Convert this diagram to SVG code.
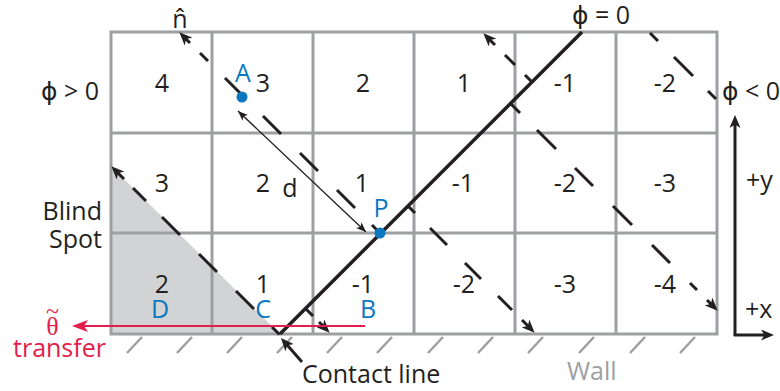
<svg xmlns="http://www.w3.org/2000/svg" width="780" height="391" viewBox="0 0 780 391">
<style>
.grid{stroke:#9d9fa2;stroke-width:3;fill:none}
.hatch{stroke:#9d9fa2;stroke-width:2.5}
.t{font-family:"Open Sans","DejaVu Sans",sans-serif;font-size:25px;fill:#231f20}
.m{text-anchor:middle}
.phi{font-family:"DejaVu Sans",sans-serif}
.blue{fill:#0b78c0}
.red{fill:#e31d4c}
.gray{fill:#9d9fa2}
.dash{stroke:#231f20;stroke-width:3;fill:none}
.arr{marker-end:url(#ah)}
.serif{font-family:"Liberation Serif",serif;text-anchor:middle;fill:#e31d4c}
</style>
<defs>
<marker id="ah" markerUnits="userSpaceOnUse" viewBox="0 0 13 11" markerWidth="13" markerHeight="11" refX="9" refY="5.5" orient="auto">
<path d="M0,0 L13,5.5 L0,11 L3.5,5.5 z" fill="#231f20"/>
</marker>
<marker id="ahs" markerUnits="userSpaceOnUse" viewBox="0 0 10 8" markerWidth="10" markerHeight="8" refX="10" refY="4" orient="auto-start-reverse">
<path d="M0,0 L10,4 L0,8 L2.5,4 z" fill="#231f20"/>
</marker>
<marker id="ahr" markerUnits="userSpaceOnUse" viewBox="0 0 16 12" markerWidth="16" markerHeight="12" refX="12" refY="6" orient="auto">
<path d="M0,0 L16,6 L0,12 L4,6 z" fill="#e31d4c"/>
</marker>
</defs>

<g id="blind-spot">
<polygon points="111,166 111,334 280,334" fill="#d1d3d4"/>
</g>

<g id="grid">
<rect class="grid" x="111" y="32" width="606" height="302"/>
<path class="grid" d="M212,32V334M313,32V334M414,32V334M515,32V334M616,32V334M111,133H717M111,233H717"/>
</g>

<g id="wall">
<path class="hatch" d="M127,353l15,-16M177,353l15,-16M227,353l15,-16M277,353l15,-16M327,353l15,-16M377,353l15,-16M428,353l15,-16M478,353l15,-16M528,353l15,-16M579,353l15,-16M630,353l15,-16M680,353l15,-16"/>
<text class="t gray" x="567" y="380">Wall</text>
</g>

<g id="cells">
<text class="t m" x="162" y="92">4</text>
<text class="t m" x="263" y="92">3</text>
<text class="t m" x="363" y="92">2</text>
<text class="t m" x="464" y="92">1</text>
<text class="t m" x="565" y="92">-1</text>
<text class="t m" x="665" y="92">-2</text>
<text class="t m" x="162" y="192">3</text>
<text class="t m" x="263" y="192">2</text>
<text class="t m" x="362" y="192">1</text>
<text class="t m" x="463" y="192">-1</text>
<text class="t m" x="565" y="192">-2</text>
<text class="t m" x="665" y="192">-3</text>
<text class="t m" x="162" y="293">2</text>
<text class="t m" x="263" y="293">1</text>
<text class="t m" x="363" y="293">-1</text>
<text class="t m" x="464" y="293">-2</text>
<text class="t m" x="565" y="293">-3</text>
<text class="t m" x="665" y="293">-4</text>
</g>

<g id="connectors">
<path id="contact-line" d="M280,334 L582,32" stroke="#231f20" stroke-width="3.5" fill="none"/>
<path id="n1" class="dash arr" d="M279.5,334.5 L272,327 M254,309 L236,291 M217,272 L199,254 M180,235 L162,217 M146,201 L133,188 M124,179 L114.2,169.2"/>
<path id="n2" class="dash arr" d="M380,233 L372,225 M355,208 L337,190 M318,171 L300,153 M281,134 L263,116 M245,98 L225,78 M208,61 L200,53 M190,43 L182.2,35.2"/>
<path id="n3" class="dash arr" d="M408,206 L415,213 M430,228 L447,245 M465,263 L481,279 M498,296 L512,310 M522,320 L531.8,329.8"/>
<path id="n4" class="dash arr" d="M532,82 L525,75 M515,65 L505,55 M495,45 L486.2,36.2"/>
<path id="n5" class="dash arr" d="M510.5,103.5 L520,113 M537,130 L556,149 M575,168 L593,186 M613,206 L632,225 M652,245 L670,263 M690,283 L697,290 M707,300 L714.8,307.8"/>
<path id="n6" class="dash" d="M650,33 L658,41 M674,57 L693,76 M708,91 L716,99"/>
<path id="n7" class="dash arr" d="M305.5,308.5 L313,316 M319,322 L326.8,329.8"/>
<path id="contact-arrow" class="dash arr" d="M302,362 L283.6,341"/>
<path id="d-arrow" d="M238,111 L366,232" stroke="#231f20" stroke-width="1.3" fill="none" marker-start="url(#ahs)" marker-end="url(#ahs)"/>
<path id="transfer-arrow" d="M365,326 L76,326" stroke="#e31d4c" stroke-width="2" fill="none" marker-end="url(#ahr)"/>
<path id="axis-y" class="dash arr" d="M735,336 L735,119" stroke-width="2.5"/>
<path id="axis-x" class="dash arr" d="M733.8,335 L770,335" stroke-width="2.5"/>
</g>

<g id="points">
<circle cx="242" cy="97" r="5.5" fill="#0b78c0"/>
<circle cx="380" cy="233" r="5.5" fill="#0b78c0"/>
<text class="t m blue" x="243" y="82">A</text>
<text class="t m blue" x="381" y="217">P</text>
<text class="t m blue" x="368" y="318">B</text>
<text class="t m blue" x="263" y="318">C</text>
<text class="t m blue" x="160" y="318">D</text>
<text class="t m" x="290" y="197">d</text>
</g>

<g id="labels">
<text class="t m" x="180" y="28">n̂</text>
<text class="t" x="41" y="100"><tspan class="phi">ϕ</tspan> &gt; 0</text>
<text class="t" x="572" y="24"><tspan class="phi">ϕ</tspan> = 0</text>
<text class="t" x="722" y="100"><tspan class="phi">ϕ</tspan> &lt; 0</text>
<text class="t" x="102" y="220" text-anchor="end">Blind</text>
<text class="t" x="102" y="248" text-anchor="end">Spot</text>
<text class="serif" x="52.5" y="319" font-size="24">~</text>
<text class="serif" x="52.5" y="335" font-size="26">θ</text>
<text class="t red" x="13" y="357" font-size="24">transfer</text>
<text class="t" x="302" y="383">Contact line</text>
<text class="t" x="746" y="189">+y</text>
<text class="t" x="745" y="318">+x</text>
</g>
</svg>
